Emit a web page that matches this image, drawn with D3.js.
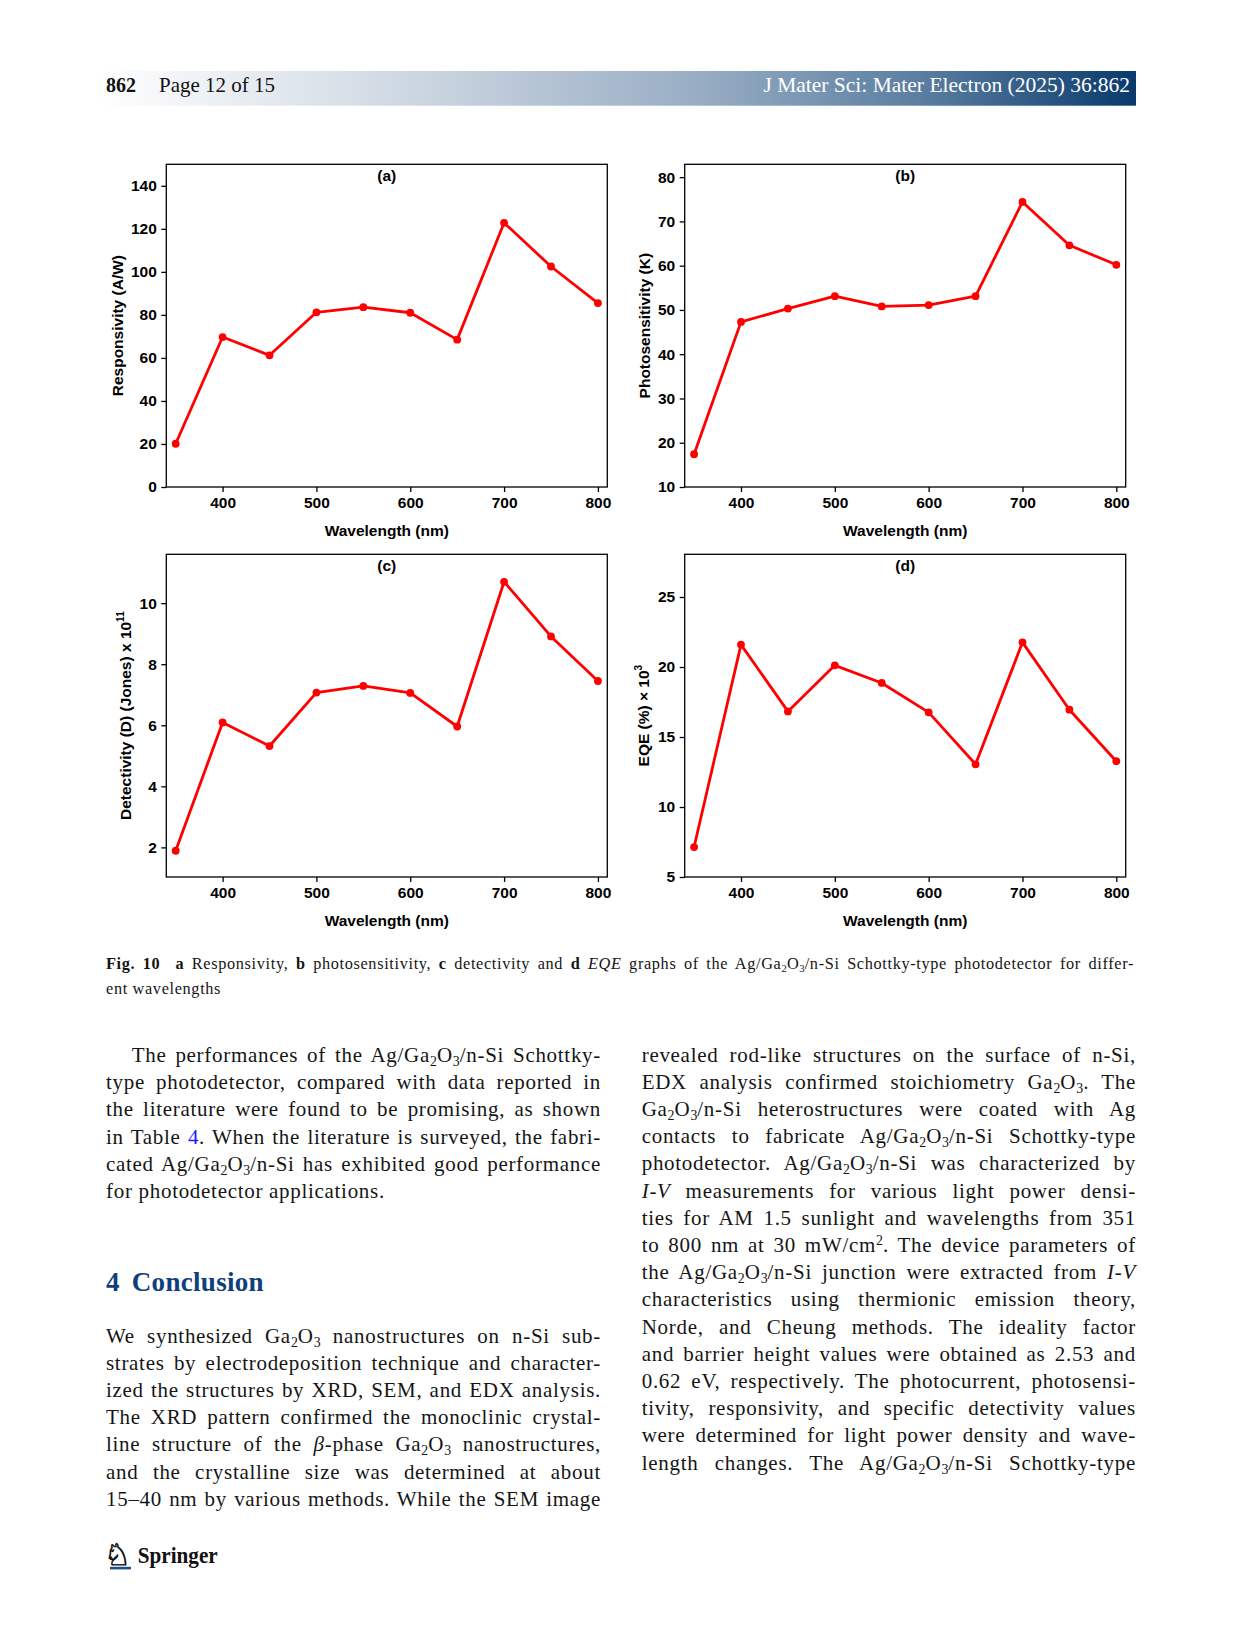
<!DOCTYPE html>
<html>
<head>
<meta charset="utf-8">
<script src="https://cdn.jsdelivr.net/npm/d3@7"></script>
<style>
  html, body { margin: 0; padding: 0; background: #fff; }
  #page { position: relative; width: 1241px; height: 1648px; overflow: hidden; }
  #page svg { position: absolute; left: 0; top: 0; }
  .txt { position: absolute; font-family: "Liberation Serif", serif; color: #151515;
         white-space: nowrap; text-align: left; }
  .body { font-size: 21px; line-height: 27px; height: 27px; letter-spacing: 0.7px; }
  .cap { font-size: 16.3px; line-height: 20px; height: 20px; letter-spacing: 0.65px; }
  .txt sub { font-size: 0.66em; vertical-align: -0.28em; line-height: 0; letter-spacing: 0; }
  .txt sup { font-size: 0.66em; vertical-align: 0.5em; line-height: 0; letter-spacing: 0; }
  .ref { color: #1a1aff; }
  .head { font-size: 27px; font-weight: bold; color: #0f3f7c; line-height: 32px; letter-spacing: 0.3px; }
</style>
</head>
<body>
<div id="page"></div>
<script>
// ---- data ----
var wavelengths = [350, 400, 450, 500, 550, 600, 650, 700, 750, 800];
var responsivity = [20.1, 69.7, 61.2, 81.2, 83.6, 81.0, 68.5, 122.8, 102.5, 85.5];
var photosensitivity = [17.4, 47.3, 50.3, 53.1, 50.8, 51.1, 53.1, 74.4, 64.6, 60.2];
var detectivity = [1.89, 6.09, 5.32, 7.07, 7.29, 7.06, 5.96, 10.7, 8.91, 7.45];
var eqe = [7.14, 21.6, 16.83, 20.12, 18.86, 16.76, 13.05, 21.76, 16.95, 13.27];

var xTicks = [400, 500, 600, 700, 800];
var ticksA = [0, 20, 40, 60, 80, 100, 120, 140];
var ticksB = [10, 20, 30, 40, 50, 60, 70, 80];
var ticksC = [2, 4, 6, 8, 10];
var ticksD = [5, 10, 15, 20, 25];

// ---- page text ----
var captionLines = [
    "<b>Fig. 10</b>&nbsp; <b>a</b> Responsivity, <b>b</b> photosensitivity, <b>c</b> detectivity and <b>d</b> <i>EQE</i> graphs of the Ag/Ga<sub>2</sub>O<sub>3</sub>/n-Si Schottky-type photodetector for differ-",
    "ent wavelengths"
];
var leftPara1 = [
    "The performances of the Ag/Ga<sub>2</sub>O<sub>3</sub>/n-Si Schottky-",
    "type photodetector, compared with data reported in",
    "the literature were found to be promising, as shown",
    "in Table <span class='ref'>4</span>. When the literature is surveyed, the fabri-",
    "cated Ag/Ga<sub>2</sub>O<sub>3</sub>/n-Si has exhibited good performance",
    "for photodetector applications."
];
var leftPara2 = [
    "We synthesized Ga<sub>2</sub>O<sub>3</sub> nanostructures on n-Si sub-",
    "strates by electrodeposition technique and character-",
    "ized the structures by XRD, SEM, and EDX analysis.",
    "The XRD pattern confirmed the monoclinic crystal-",
    "line structure of the <i>β</i>-phase Ga<sub>2</sub>O<sub>3</sub> nanostructures,",
    "and the crystalline size was determined at about",
    "15–40 nm by various methods. While the SEM image"
];
var rightPara = [
    "revealed rod-like structures on the surface of n-Si,",
    "EDX analysis confirmed stoichiometry Ga<sub>2</sub>O<sub>3</sub>. The",
    "Ga<sub>2</sub>O<sub>3</sub>/n-Si heterostructures were coated with Ag",
    "contacts to fabricate Ag/Ga<sub>2</sub>O<sub>3</sub>/n-Si Schottky-type",
    "photodetector. Ag/Ga<sub>2</sub>O<sub>3</sub>/n-Si was characterized by",
    "<i>I-V</i> measurements for various light power densi-",
    "ties for AM 1.5 sunlight and wavelengths from 351",
    "to 800 nm at 30 mW/cm<sup>2</sup>. The device parameters of",
    "the Ag/Ga<sub>2</sub>O<sub>3</sub>/n-Si junction were extracted from <i>I-V</i>",
    "characteristics using thermionic emission theory,",
    "Norde, and Cheung methods. The ideality factor",
    "and barrier height values were obtained as 2.53 and",
    "0.62 eV, respectively. The photocurrent, photosensi-",
    "tivity, responsivity, and specific detectivity values",
    "were determined for light power density and wave-",
    "length changes. The Ag/Ga<sub>2</sub>O<sub>3</sub>/n-Si Schottky-type"
];

var page = d3.select('#page');
var svg = page.append('svg').attr('width', 1241).attr('height', 1648);

// header bar
var grad = svg.append('defs').append('linearGradient').attr('id', 'hdr');
grad.append('stop').attr('offset', '0%').attr('stop-color', '#ffffff');
grad.append('stop').attr('offset', '30%').attr('stop-color', '#cdd7e2');
grad.append('stop').attr('offset', '58%').attr('stop-color', '#98adc4');
grad.append('stop').attr('offset', '80%').attr('stop-color', '#587c9f');
grad.append('stop').attr('offset', '100%').attr('stop-color', '#093a6c');
svg.append('rect').attr('x', 98).attr('y', 71).attr('width', 1038).attr('height', 34.7)
    .attr('fill', 'url(#hdr)');
svg.append('text').attr('x', 106).attr('y', 92)
    .style('font-family', '"Liberation Serif", serif').style('font-size', '20px')
    .style('font-weight', 'bold').attr('fill', '#111').text('862');
svg.append('text').attr('x', 159).attr('y', 92)
    .style('font-family', '"Liberation Serif", serif').style('font-size', '21px')
    .attr('fill', '#111').text('Page 12 of 15');
svg.append('text').attr('x', 1130).attr('y', 92).attr('text-anchor', 'end')
    .style('font-family', '"Liberation Serif", serif').style('font-size', '21.5px')
    .attr('fill', '#fff').text('J Mater Sci: Mater Electron (2025) 36:862');

// ---- the four panels ----
var pw = 441, ph = 322.7;
var panels = [
    { title: '(a)', values: responsivity, domain: [0, 150], ticks: ticksA,
      label: 'Responsivity (A/W)', sup: null, left: 166.3, top: 164.3, labelOff: 43 },
    { title: '(b)', values: photosensitivity, domain: [10, 82.9], ticks: ticksB,
      label: 'Photosensitivity (K)', sup: null, left: 684.7, top: 164.3, labelOff: 35 },
    { title: '(c)', values: detectivity, domain: [1.03, 11.6], ticks: ticksC,
      label: 'Detectivity (D) (Jones) x 10', sup: '11', left: 166.3, top: 554.3, labelOff: 35.3 },
    { title: '(d)', values: eqe, domain: [5, 28.05], ticks: ticksD,
      label: 'EQE (%) \u00d7 10', sup: '3', left: 684.7, top: 554.3, labelOff: 35.3 }
];

var font = '"Liberation Sans", Arial, sans-serif';

panels.forEach(function(p) {
    var x = d3.scaleLinear().domain([340, 810]).range([0, pw]);
    var y = d3.scaleLinear().domain(p.domain).range([ph, 0]);
    var g = svg.append('g').attr('transform', 'translate(' + p.left + ',' + p.top + ')');

    var xa = g.append('g').attr('transform', 'translate(0,' + ph + ')')
        .call(d3.axisBottom(x).tickValues(xTicks).tickSize(5).tickSizeOuter(0).tickPadding(5));
    var ya = g.append('g')
        .call(d3.axisLeft(y).tickValues(p.ticks).tickSize(5).tickSizeOuter(0).tickPadding(4.5));
    [xa, ya].forEach(function(a) {
        a.select('.domain').remove();
        a.selectAll('line').attr('stroke', '#000').attr('stroke-width', 1.3);
        a.selectAll('text').attr('fill', '#000')
            .style('font-family', font).style('font-size', '15.5px').style('font-weight', 'bold');
    });

    g.append('rect').attr('width', pw).attr('height', ph)
        .attr('fill', 'none').attr('stroke', '#000').attr('stroke-width', 1.3);

    var line = d3.line()
        .x(function(d, i) { return x(wavelengths[i]); })
        .y(function(d) { return y(d); });
    g.append('path').datum(p.values).attr('d', line)
        .attr('fill', 'none').attr('stroke', '#ff0000').attr('stroke-width', 2.8)
        .attr('stroke-linejoin', 'round');
    g.selectAll('circle.pt').data(p.values).enter().append('circle')
        .attr('class', 'pt')
        .attr('cx', function(d, i) { return x(wavelengths[i]); })
        .attr('cy', function(d) { return y(d); })
        .attr('r', 3.9).attr('fill', '#ff0000');

    g.append('text').attr('x', pw / 2).attr('y', 16.7).attr('text-anchor', 'middle')
        .style('font-family', font).style('font-size', '15.5px').style('font-weight', 'bold')
        .text(p.title);
    g.append('text').attr('x', pw / 2).attr('y', ph + 49).attr('text-anchor', 'middle')
        .style('font-family', font).style('font-size', '15.5px').style('font-weight', 'bold')
        .text('Wavelength (nm)');

    var yl = g.append('text')
        .attr('transform', 'translate(' + (-p.labelOff) + ',' + (ph / 2) + ') rotate(-90)')
        .attr('text-anchor', 'middle')
        .style('font-family', font).style('font-size', '15.5px').style('font-weight', 'bold');
    yl.append('tspan').text(p.label);
    if (p.sup) {
        yl.append('tspan').attr('dy', -7).style('font-size', '10px').text(p.sup);
    }
});

// ---- caption and body text: each line set at its natural width, then spaces stretched ----
function addLines(lines, cls, left, width, firstBase, step, baseOff, lastIsEnd, indent) {
    lines.forEach(function(t, i) {
        var isLast = lastIsEnd && i === lines.length - 1;
        var ind = (i === 0 && indent) ? indent : 0;
        var div = page.append('div')
            .attr('class', 'txt ' + cls)
            .style('left', (left + ind) + 'px')
            .style('top', (firstBase + i * step - baseOff) + 'px');
        var span = div.append('span').html(t);
        if (!isLast) {
            var natural = span.node().getBoundingClientRect().width;
            var gaps = (span.node().textContent.match(/[ \u00a0]/g) || []).length;
            if (gaps > 0) {
                span.style('word-spacing', ((width - ind - natural) / gaps) + 'px');
            }
        }
    });
}

addLines(captionLines, 'cap', 106, 1028, 969, 25, 15.4, true, 0);
addLines(leftPara1, 'body', 106, 495, 1062.3, 27.35, 20.8, true, 25.7);
addLines(leftPara2, 'body', 106, 495, 1343.3, 27.2, 20.8, false, 0);
addLines(rightPara, 'body', 641.7, 494.3, 1062.3, 27.2, 20.8, false, 0);

page.append('div').attr('class', 'txt head').style('left', '106px').style('top', (1290.7 - 25) + 'px')
    .html('4<span style="margin-left:12px">Conclusion</span>');

// springer mark
svg.append('text').attr('x', 104).attr('y', 1565)
    .style('font-family', '"DejaVu Sans", sans-serif').style('font-size', '30px')
    .attr('fill', '#111').attr('stroke', '#111').attr('stroke-width', 0.8).text('\u2658');
svg.append('rect').attr('x', 110).attr('y', 1566.8).attr('width', 21).attr('height', 2.6)
    .attr('fill', '#1d4f8a');
svg.append('text').attr('x', 137.7).attr('y', 1563.3).attr('textLength', 80)
    .attr('lengthAdjust', 'spacingAndGlyphs')
    .style('font-family', '"Liberation Serif", serif').style('font-size', '23px')
    .style('font-weight', 'bold').attr('fill', '#111').text('Springer');
</script>
</body>
</html>
